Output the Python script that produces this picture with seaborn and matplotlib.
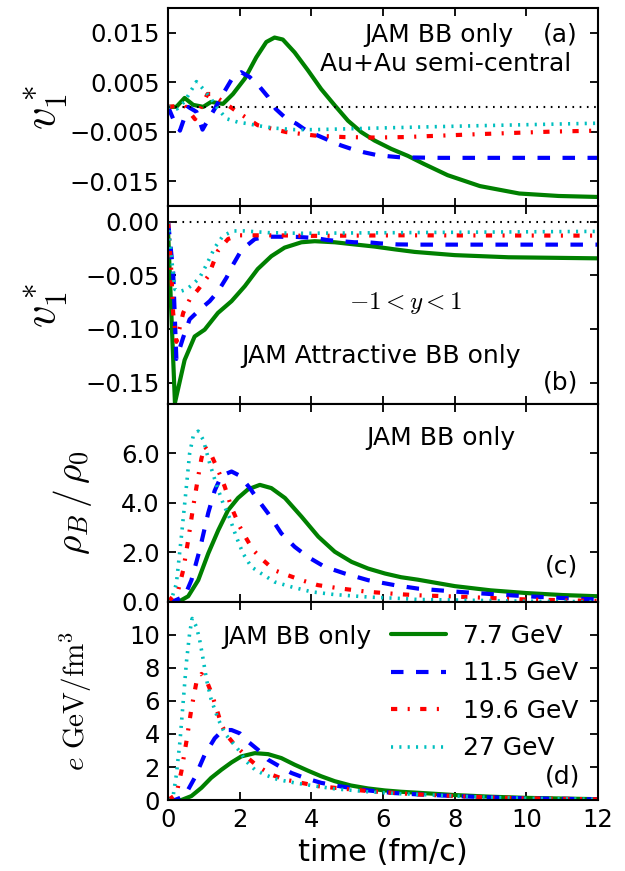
import numpy as np
import pandas as pd
import matplotlib
matplotlib.use("Agg")
import matplotlib.pyplot as plt
from matplotlib.ticker import FuncFormatter
import seaborn as sns

# ---------------- data ----------------
labels = ["7.7 GeV", "11.5 GeV", "19.6 GeV", "27 GeV"]
xticks = [0, 2, 4, 6, 8, 10, 12]

# panel (a): v1* (Au+Au semi-central)
t_a_77 = [0, 0.23, 0.46, 0.7, 0.98, 1.2, 1.53, 1.81, 2.14, 2.46, 2.74, 2.97, 3.2, 3.53, 3.9, 4.27, 4.65, 5.02, 5.39, 5.76, 6.23, 6.69, 7.13, 7.8, 8.7, 9.8, 10.9, 12]
v_a_77 = [0, 0, 0.0018, 0.0004, 0, 0.001, 0.0006, 0.0026, 0.0057, 0.010, 0.0131, 0.014, 0.0136, 0.011, 0.0074, 0.0036, 0.0003, -0.0028, -0.0051, -0.0068, -0.0085, -0.0099, -0.0115, -0.0138, -0.016, -0.0175, -0.018, -0.0182]
t_a_115 = [0, 0.14, 0.33, 0.56, 0.79, 0.96, 1.1, 1.3, 1.53, 1.81, 2.04, 2.28, 2.56, 2.79, 3.0, 3.3, 3.58, 3.86, 4.18, 4.5, 4.83, 5.16, 5.48, 5.8, 6.18, 6.5, 7.6, 12]
v_a_115 = [0, -0.0024, -0.0048, 0, -0.001, -0.0046, -0.0028, -0.0004, 0.0026, 0.006, 0.007, 0.006, 0.004, 0.002, -0.0004, -0.0024, -0.0034, -0.0048, -0.0058, -0.0068, -0.0078, -0.0086, -0.0092, -0.0097, -0.01, -0.0102, -0.0103, -0.0103]
t_a_196 = [0, 0.45, 0.75, 1.1, 1.2, 1.5, 1.85, 2.14, 2.5, 2.83, 3.3, 4.1, 4.9, 5.8, 6.6, 8.7, 10.7, 12]
v_a_196 = [0, 0.0003, -0.0025, 0.0026, 0.0026, 0.0012, -0.0006, -0.002, -0.0037, -0.0043, -0.0051, -0.0058, -0.0061, -0.0062, -0.0061, -0.0055, -0.005, -0.0048]
t_a_27 = [0, 0.25, 0.45, 0.56, 0.79, 1.02, 1.2, 1.39, 1.63, 1.95, 2.23, 2.5, 2.97, 3.53, 4.09, 4.65, 5.2, 5.76, 6.32, 6.88, 8.7, 12]
v_a_27 = [0, -0.0004, 0.001, 0.0023, 0.0051, 0.0033, 0.0016, -0.0004, -0.0024, -0.0031, -0.0034, -0.0038, -0.0043, -0.0046, -0.0046, -0.0045, -0.0044, -0.0043, -0.0042, -0.0041, -0.0038, -0.0033]

# panel (b): v1* (attractive BB only)
t_b_77 = [0, 0.19, 0.46, 0.74, 1.02, 1.39, 1.77, 2.14, 2.5, 2.88, 3.25, 3.72, 4.09, 4.65, 5.2, 5.76, 6.32, 6.88, 8.0, 9.5, 12]
v_b_77 = [-0.01, -0.169, -0.129, -0.107, -0.1006, -0.085, -0.074, -0.06, -0.044, -0.032, -0.024, -0.019, -0.018, -0.019, -0.021, -0.023, -0.0256, -0.028, -0.031, -0.033, -0.034]
t_b_115 = [0, 0.14, 0.23, 0.42, 0.6, 0.88, 1.16, 1.39, 1.63, 1.81, 2.0, 2.18, 2.42, 2.74, 3.07, 3.6, 4.1, 4.46, 4.83, 5.2, 5.58, 5.9, 6.4, 7.0, 12]
v_b_115 = [0, -0.047, -0.128, -0.108, -0.091, -0.082, -0.074, -0.065, -0.052, -0.04, -0.029, -0.0225, -0.016, -0.0138, -0.0138, -0.014, -0.015, -0.017, -0.018, -0.019, -0.019, -0.02, -0.021, -0.0212, -0.0212]
t_b_196 = [0, 0.09, 0.14, 0.23, 0.42, 0.6, 0.84, 1.12, 1.39, 1.67, 1.95, 2.32, 3.0, 4.0, 6.5, 12]
v_b_196 = [0, -0.047, -0.085, -0.112, -0.085, -0.0725, -0.063, -0.0506, -0.027, -0.016, -0.0125, -0.0125, -0.0125, -0.013, -0.0125, -0.0128]
t_b_27 = [0, 0.09, 0.19, 0.33, 0.51, 0.7, 0.88, 1.07, 1.3, 1.53, 1.81, 2.14, 2.79, 3.7, 6.5, 12]
v_b_27 = [0, -0.032, -0.063, -0.065, -0.063, -0.058, -0.052, -0.04, -0.024, -0.013, -0.0084, -0.0084, -0.01, -0.0106, -0.01, -0.0088]

# panel (c): rho_B / rho_0
t_c_77 = [0, 0.28, 0.56, 0.84, 1.12, 1.4, 1.67, 1.95, 2.23, 2.56, 2.88, 3.26, 3.72, 4.19, 4.65, 5.12, 5.58, 6.05, 6.5, 6.97, 8.0, 9.0, 10.0, 11.0, 12.0]
r_c_77 = [0, 0, 0.23, 0.88, 1.96, 2.9, 3.7, 4.2, 4.55, 4.73, 4.6, 4.2, 3.45, 2.64, 2.03, 1.62, 1.35, 1.15, 1.0, 0.9, 0.64, 0.47, 0.36, 0.28, 0.23]
t_c_115 = [0, 0.1, 0.46, 0.65, 0.88, 1.12, 1.3, 1.49, 1.77, 2.0, 2.28, 2.51, 2.79, 3.16, 3.53, 3.9, 4.37, 4.93, 5.58, 6.32, 6.97, 8.0, 9.0, 10.0, 11.0, 12.0]
r_c_115 = [0, 0, 0.23, 0.88, 2.1, 3.6, 4.5, 5.1, 5.27, 5.1, 4.6, 4.12, 3.58, 2.77, 2.23, 1.82, 1.42, 1.15, 0.88, 0.68, 0.54, 0.42, 0.32, 0.23, 0.16, 0.1]
t_c_196 = [0, 0.28, 0.42, 0.56, 0.7, 0.84, 0.93, 1.02, 1.2, 1.39, 1.58, 1.76, 2.0, 2.18, 2.37, 2.65, 2.97, 3.34, 3.72, 4.18, 4.83, 5.58, 6.5, 6.97, 8.0, 9.0, 10.0, 12.0]
r_c_196 = [0, 0.47, 1.28, 2.5, 3.85, 5.07, 5.8, 6.28, 5.95, 5.34, 4.66, 3.85, 3.04, 2.57, 2.1, 1.69, 1.28, 1.08, 0.88, 0.68, 0.54, 0.41, 0.31, 0.27, 0.22, 0.16, 0.1, 0.04]
t_c_27 = [0, 0.1, 0.23, 0.37, 0.51, 0.6, 0.7, 0.84, 0.98, 1.16, 1.35, 1.53, 1.72, 1.9, 2.09, 2.32, 2.6, 2.97, 3.44, 4.0, 4.64, 5.58, 6.5, 6.97, 8.0, 10.0, 12.0]
r_c_27 = [0, 0.14, 0.74, 2.64, 4.66, 6.0, 6.7, 6.9, 6.55, 5.6, 4.73, 4.0, 3.38, 2.64, 1.96, 1.42, 1.15, 0.81, 0.61, 0.41, 0.3, 0.2, 0.14, 0.1, 0.08, 0.03, 0.01]

# panel (d): energy density e [GeV/fm^3]
t_d_77 = [0, 0.37, 0.65, 0.93, 1.2, 1.49, 1.77, 2.04, 2.42, 2.79, 3.16, 3.53, 3.9, 4.27, 4.65, 5.1, 5.58, 6.05, 6.5, 6.97, 8.0, 9.0, 10.0, 12.0]
e_d_77 = [0, 0, 0.24, 0.74, 1.34, 1.84, 2.28, 2.64, 2.84, 2.78, 2.54, 2.14, 1.78, 1.44, 1.14, 0.88, 0.7, 0.58, 0.5, 0.44, 0.3, 0.2, 0.13, 0.05]
t_d_115 = [0, 0.19, 0.46, 0.74, 1.02, 1.3, 1.53, 1.77, 2.0, 2.23, 2.51, 2.79, 3.11, 3.44, 3.81, 4.27, 4.83, 5.58, 6.32, 6.97, 8.0, 9.0, 10.0, 12.0]
e_d_115 = [0, 0, 0.24, 1.34, 2.74, 3.74, 4.24, 4.24, 4.04, 3.54, 3.04, 2.44, 2.04, 1.64, 1.34, 1.04, 0.82, 0.58, 0.42, 0.34, 0.24, 0.16, 0.1, 0.04]
t_d_196 = [0, 0.23, 0.37, 0.51, 0.65, 0.79, 0.93, 1.07, 1.2, 1.35, 1.49, 1.67, 1.86, 2.0, 2.23, 2.5, 2.88, 3.25, 3.72, 4.18, 4.83, 5.58, 6.5, 6.97, 8.0, 9.0, 10.0, 12.0]
e_d_196 = [0, 0.34, 1.74, 3.54, 5.54, 7.14, 7.64, 7.24, 6.54, 5.54, 4.54, 3.84, 3.34, 3.04, 2.54, 2.04, 1.54, 1.24, 1.04, 0.84, 0.7, 0.54, 0.4, 0.34, 0.24, 0.16, 0.1, 0.04]
t_d_27 = [0, 0.14, 0.23, 0.33, 0.42, 0.51, 0.6, 0.67, 0.79, 0.88, 0.98, 1.07, 1.2, 1.39, 1.58, 1.81, 2.0, 2.18, 2.42, 2.69, 3.06, 3.53, 4.0, 4.64, 5.58, 6.5, 6.97, 8.0, 9.0, 10.0, 12.0]
e_d_27 = [0, 0.24, 1.54, 3.54, 5.94, 8.34, 10.1, 11.0, 10.5, 9.7, 8.5, 7.3, 6.1, 4.94, 4.04, 3.44, 2.94, 2.34, 1.84, 1.54, 1.24, 1.04, 0.88, 0.68, 0.5, 0.38, 0.34, 0.24, 0.16, 0.1, 0.04]

panels = [
    [(t_a_77, v_a_77), (t_a_115, v_a_115), (t_a_196, v_a_196), (t_a_27, v_a_27)],
    [(t_b_77, v_b_77), (t_b_115, v_b_115), (t_b_196, v_b_196), (t_b_27, v_b_27)],
    [(t_c_77, r_c_77), (t_c_115, r_c_115), (t_c_196, r_c_196), (t_c_27, r_c_27)],
    [(t_d_77, e_d_77), (t_d_115, e_d_115), (t_d_196, e_d_196), (t_d_27, e_d_27)],
]

# ---------------- style ----------------
sns.set_style("ticks")
plt.rcParams["font.family"] = ["DejaVu Sans"]
plt.rcParams["mathtext.fontset"] = "cm"
plt.rcParams["lines.scale_dashes"] = False
plt.rcParams["axes.linewidth"] = 1.5
plt.rcParams["axes.unicode_minus"] = True
for k in ["text.color", "axes.labelcolor", "xtick.color", "ytick.color", "axes.edgecolor"]:
    plt.rcParams[k] = "black"


def fmt(decimals):
    def _f(v, pos):
        s = f"{v:.{decimals}f}"
        if float(s) == 0:
            s = s.lstrip("-")
        return s.replace("-", "\u2212")
    return FuncFormatter(_f)


colors = ["#008000", "#0000ff", "#ff0000", "#00bfbf"]
styles = ["-", (0, (9, 9)), (0, (4.5, 7.5, 1.5, 7.5)), (0, (1.5, 4.5))]
widths = [3.0, 3.0, 3.0, 2.6]

fig, axes = plt.subplots(4, 1, figsize=(6.25, 8.71), dpi=100, sharex=True)
fig.subplots_adjust(left=0.269, right=0.957, top=0.991, bottom=0.0815, hspace=0)

for ax, series in zip(axes, panels):
    for (t, y), lab, c, ls, lw in zip(series, labels, colors, styles, widths):
        df = pd.DataFrame({"time": t, "val": y})
        sns.lineplot(data=df, x="time", y="val", ax=ax, color=c, linestyle=ls,
                     linewidth=lw, label=lab, legend=False)
    ax.set_xlim(0, 12)
    ax.set_xticks(xticks)
    ax.tick_params(direction="in", top=True, right=True, length=6, width=1.3,
                   labelsize=17.5, pad=6, colors="black")
    ax.set_xlabel("")

ax_a, ax_b, ax_c, ax_d = axes

ax_a.axhline(0, color="k", linestyle=(0, (1.2, 4)), linewidth=1.5)
ax_b.axhline(0, color="k", linestyle=(0, (1.2, 4)), linewidth=1.5)

ax_a.set_ylim(-0.02, 0.02)
ax_a.set_yticks([-0.015, -0.005, 0.005, 0.015])
ax_a.yaxis.set_major_formatter(fmt(3))
ax_b.set_ylim(-0.17, 0.015)
ax_b.set_yticks([-0.15, -0.10, -0.05, 0.0])
ax_b.yaxis.set_major_formatter(fmt(2))
ax_c.set_ylim(0, 8)
ax_c.set_yticks([0, 2, 4, 6])
ax_c.yaxis.set_major_formatter(fmt(1))
ax_d.set_ylim(0, 12)
ax_d.set_yticks([0, 2, 4, 6, 8, 10])
ax_d.yaxis.set_major_formatter(fmt(0))
ax_d.xaxis.set_major_formatter(fmt(0))

ax_a.set_ylabel(r"$v_1^*$", fontsize=32)
ax_b.set_ylabel(r"$v_1^*$", fontsize=32)
ax_c.set_ylabel(r"$\rho_B\,/\,\rho_0$", fontsize=27)
ax_d.set_ylabel(r"$e\ \mathrm{GeV/fm^3}$", fontsize=21)
ax_a.yaxis.set_label_coords(-0.228, 0.5)
ax_b.yaxis.set_label_coords(-0.228, 0.5)
ax_c.yaxis.set_label_coords(-0.172, 0.5)
ax_d.yaxis.set_label_coords(-0.172, 0.5)
ax_d.set_xlabel("time (fm/c)", fontsize=22, labelpad=4)

fs = 18
ax_a.text(0.456, 0.865, "JAM BB only", transform=ax_a.transAxes, fontsize=fs, ha="left", va="center")
ax_a.text(0.953, 0.865, "(a)", transform=ax_a.transAxes, fontsize=fs, ha="right", va="center")
ax_a.text(0.353, 0.715, "Au+Au semi-central", transform=ax_a.transAxes, fontsize=fs, ha="left", va="center")

ax_b.text(0.553, 0.508, r"$-1<y<1$", transform=ax_b.transAxes, fontsize=fs, ha="center", va="center")
ax_b.text(0.495, 0.244, "JAM Attractive BB only", transform=ax_b.transAxes, fontsize=fs, ha="center", va="center")
ax_b.text(0.953, 0.107, "(b)", transform=ax_b.transAxes, fontsize=fs, ha="right", va="center")

ax_c.text(0.635, 0.827, "JAM BB only", transform=ax_c.transAxes, fontsize=fs, ha="center", va="center")
ax_c.text(0.953, 0.178, "(c)", transform=ax_c.transAxes, fontsize=fs, ha="right", va="center")

ax_d.text(0.126, 0.823, "JAM BB only", transform=ax_d.transAxes, fontsize=fs, ha="left", va="center")
ax_d.text(0.958, 0.12, "(d)", transform=ax_d.transAxes, fontsize=fs, ha="right", va="center")

handles = ax_d.get_lines()[:4]
ax_d.legend(handles=handles, labels=labels, loc="upper right", bbox_to_anchor=(0.955, 0.89),
            frameon=False, fontsize=fs, handlelength=2.2, handletextpad=0.7,
            labelspacing=0.54, borderaxespad=0, borderpad=0)

fig.savefig("out.png", dpi=100)
